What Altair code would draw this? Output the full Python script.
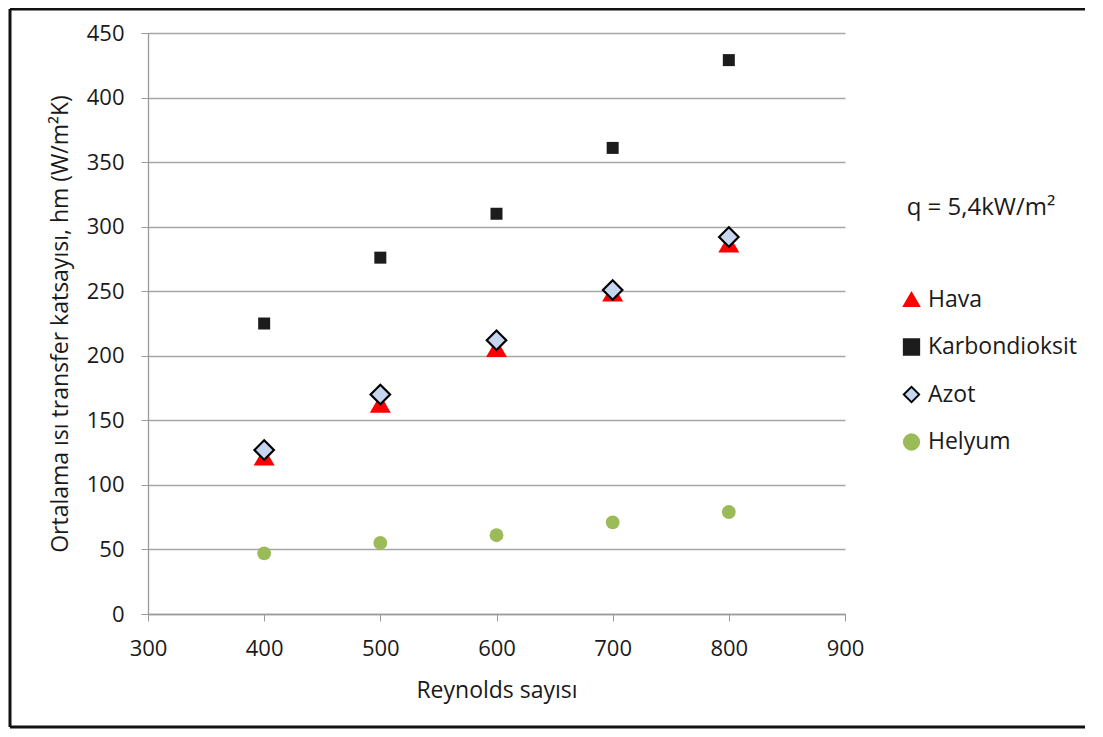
import altair as alt
import pandas as pd

reynolds = [400, 500, 600, 700, 800]
hava = [122, 163, 206, 249, 287]
karbondioksit = [225, 276, 310, 361, 429]
azot = [127, 170, 212, 251, 292]
helyum = [47, 55, 61, 71, 79]

series_names = ["Hava", "Karbondioksit", "Azot", "Helyum"]
series_values = [hava, karbondioksit, azot, helyum]
fills = ["#ff0000", "#1c1c1c", "#c6d6ee", "#9bbb59"]
strokes = ["#ff0000", "#1c1c1c", "#000000", "#9bbb59"]
shapes = ["triangle-up", "square", "diamond", "circle"]
mark_sizes = [440, 144, 380, 190]
stroke_widths = [0, 0, 2.2, 0]

annotation = "q = 5,4kW/m²"
x_title = "Reynolds sayısı"
y_title = "Ortalama ısı transfer katsayısı, hm (W/m²K)"

rows = []
for name, vals in zip(series_names, series_values):
    for r, v in zip(reynolds, vals):
        rows.append({"Re": r, "h": v, "Seri": name})
df = pd.DataFrame(rows)

FONT = "Open Sans"
W, H = 697, 581

xenc = alt.X("Re:Q", scale=alt.Scale(domain=[300, 900], nice=False),
             axis=alt.Axis(values=[300, 400, 500, 600, 700, 800, 900], title=x_title,
                           grid=False, titleX=W / 2, titleY=76, titleBaseline="middle",
                           labelPadding=17, labelFlush=False))
yenc = alt.Y("h:Q", scale=alt.Scale(domain=[0, 450], nice=False),
             axis=alt.Axis(values=list(range(0, 451, 50)), title=y_title,
                           titleX=-88, titleY=H / 2, titleAngle=-90,
                           titleAlign="center", titleBaseline="middle",
                           labelPadding=17, labelFlush=False))

fill_scale = alt.Scale(domain=series_names, range=fills)
stroke_scale = alt.Scale(domain=series_names, range=strokes)
shape_scale = alt.Scale(domain=series_names, range=shapes)

legend = alt.Legend(title=None, orient="none", legendX=752, legendY=255,
                    labelFontSize=23, labelFont=FONT, labelColor="#1a1a1a",
                    symbolSize=240, symbolStrokeWidth=1.8, rowPadding=23.5,
                    labelOffset=5, symbolOpacity=1)

layers = []
for i, name in enumerate(series_names):
    layers.append(
        alt.Chart(df).transform_filter(alt.datum.Seri == name).mark_point(
            filled=True, size=mark_sizes[i], opacity=1, strokeWidth=stroke_widths[i]
        ).encode(
            x=xenc, y=yenc,
            fill=alt.Fill("Seri:N", scale=fill_scale, legend=legend),
            stroke=alt.Stroke("Seri:N", scale=stroke_scale, legend=legend),
            shape=alt.Shape("Seri:N", scale=shape_scale, legend=legend),
        )
    )

one = alt.Data(values=[{"a": 1}])
note = alt.Chart(one).mark_text(font=FONT, fontSize=24, color="#1a1a1a", align="center",
                                baseline="middle").encode(
    x=alt.value(833), y=alt.value(175), text=alt.value(annotation))

frame_left = alt.Chart(one).mark_rule(color="#111111", strokeWidth=3).encode(
    x=alt.value(-138), y=alt.value(-24), y2=alt.value(694))
frame_top = alt.Chart(one).mark_rule(color="#111111", strokeWidth=3).encode(
    x=alt.value(-138), x2=alt.value(960), y=alt.value(-24))
frame_bottom = alt.Chart(one).mark_rule(color="#111111", strokeWidth=3).encode(
    x=alt.value(-138), x2=alt.value(960), y=alt.value(694))

chart = alt.layer(*layers, note, frame_left, frame_top, frame_bottom).properties(
    width=W, height=H,
    background="white",
    autosize=alt.AutoSizeParams(type="none"),
    padding={"left": 140, "top": 25, "right": 240, "bottom": 115},
).configure_view(strokeWidth=0).configure_axis(
    labelFont=FONT, titleFont=FONT, labelFontSize=22, titleFontSize=23,
    labelColor="#1a1a1a", titleColor="#1a1a1a", labelFontWeight="normal",
    titleFontWeight="normal", domainColor="#9a9a9a", tickColor="#9a9a9a",
    gridColor="#a6a6a6", gridWidth=1.3, domainWidth=1.3, tickSize=7,
)

chart.save("out.html", embed_options={"renderer": "svg", "actions": False})
